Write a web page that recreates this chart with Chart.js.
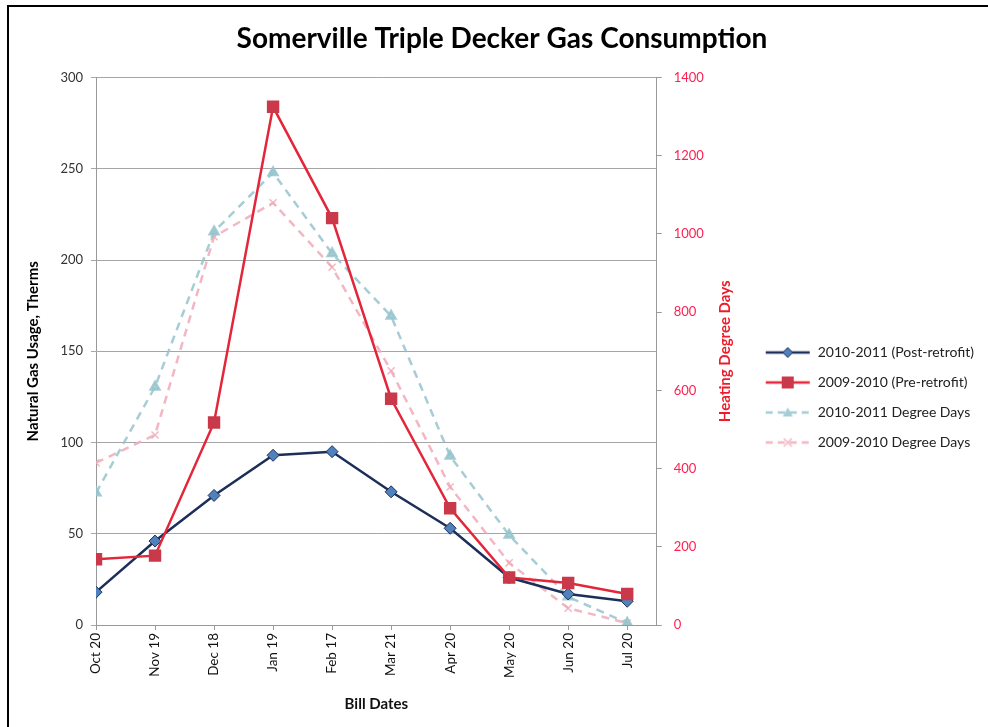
<!DOCTYPE html>
<html>
<head>
<meta charset="utf-8">
<script src="https://cdn.jsdelivr.net/npm/chart.js@4.4.1/dist/chart.umd.min.js"></script>
<style>
  html, body { margin: 0; padding: 0; background: #fff; }
  #wrap { position: relative; width: 988px; height: 727px; }
  #frame { position: absolute; left: 7px; top: 5px; right: 0; bottom: 0; border-top: 2px solid #000; border-left: 2px solid #000; }
  canvas { position: absolute; left: 0; top: 0; }
</style>
</head>
<body>
<div id="wrap">
  <div id="frame"></div>
  <canvas id="gasChart" width="988" height="727"></canvas>
</div>
<script>
const billDates = ["Oct 20", "Nov 19", "Dec 18", "Jan 19", "Feb 17", "Mar 21", "Apr 20", "May 20", "Jun 20", "Jul 20"];
const postRetrofit = [18, 46, 71, 93, 95, 73, 53, 26, 17, 13];
const preRetrofit = [36, 38, 111, 284, 223, 124, 64, 26, 23, 17];
const degreeDays1011 = [338, 609, 1006, 1157, 950, 790, 432, 230, 72, 5];
const degreeDays0910 = [415, 486, 993, 1080, 915, 650, 353, 159, 43, 5];
const thermTicks = [0, 50, 100, 150, 200, 250, 300];
const degreeTicks = [0, 200, 400, 600, 800, 1000, 1200, 1400];

const FONT = "Lato, 'Open Sans', sans-serif";
const red = "#e3263a";
const navy = "#1b2f5a";
const teal = "rgba(150,196,206,0.85)";
const pink = "rgba(240,170,185,0.85)";
const axisRed = "#ff1f4f";

function pts(arr) {
  return arr.map((v, i) => ({ x: i, y: v }));
}

// legend swatch: short line with the marker in the middle
function swatch(color, dash, drawMarker) {
  const c = document.createElement("canvas");
  c.width = 46; c.height = 16;
  const g = c.getContext("2d");
  g.strokeStyle = color;
  g.lineWidth = 2.5;
  g.setLineDash(dash);
  g.beginPath(); g.moveTo(1, 8); g.lineTo(45, 8); g.stroke();
  g.setLineDash([]);
  drawMarker(g, 23, 8);
  return c;
}
const legendIcons = [
  swatch(navy, [], (g, x, y) => {
    g.fillStyle = "#4f81bd"; g.strokeStyle = navy; g.lineWidth = 1;
    g.beginPath(); g.moveTo(x, y - 5); g.lineTo(x + 5, y); g.lineTo(x, y + 5); g.lineTo(x - 5, y); g.closePath(); g.fill(); g.stroke();
  }),
  swatch(red, [], (g, x, y) => {
    g.fillStyle = "#c9394a"; g.fillRect(x - 6, y - 6, 12, 12);
  }),
  swatch(teal, [7, 5], (g, x, y) => {
    g.fillStyle = teal;
    g.beginPath(); g.moveTo(x, y - 5); g.lineTo(x + 5, y + 4); g.lineTo(x - 5, y + 4); g.closePath(); g.fill();
  }),
  swatch(pink, [7, 5], (g, x, y) => {
    g.strokeStyle = pink; g.lineWidth = 1.5;
    g.beginPath(); g.moveTo(x - 4, y - 4); g.lineTo(x + 4, y + 4); g.moveTo(x + 4, y - 4); g.lineTo(x - 4, y + 4); g.stroke();
  })
];

// right axis title reads bottom-to-top like the left one
const rightTitle = {
  id: "rightTitle",
  afterDraw(chart) {
    const s = chart.scales.y1;
    const ctx = chart.ctx;
    ctx.save();
    ctx.translate(s.left + 68, (chart.chartArea.top + chart.chartArea.bottom) / 2);
    ctx.rotate(-Math.PI / 2);
    ctx.font = "bold 15px " + FONT;
    ctx.fillStyle = "#ee1c2a";
    ctx.textAlign = "center";
    ctx.textBaseline = "middle";
    ctx.fillText("Heating Degree Days", 0, 0);
    ctx.restore();
  }
};

new Chart(document.getElementById("gasChart"), {
  type: "line",
  data: {
    datasets: [
      {
        label: "2010-2011 (Post-retrofit)",
        data: pts(postRetrofit),
        yAxisID: "y",
        borderColor: navy,
        borderWidth: 2.5,
        pointStyle: "rectRot",
        pointRadius: 6,
        pointBackgroundColor: "#4f81bd",
        pointBorderColor: navy,
        pointBorderWidth: 1,
        order: 1
      },
      {
        label: "2009-2010 (Pre-retrofit)",
        data: pts(preRetrofit),
        yAxisID: "y",
        borderColor: red,
        borderWidth: 2.5,
        pointStyle: "rect",
        pointRadius: 7,
        pointBackgroundColor: "#c9394a",
        pointBorderColor: "#c9394a",
        order: 0
      },
      {
        label: "2010-2011 Degree Days",
        data: pts(degreeDays1011),
        yAxisID: "y1",
        borderColor: teal,
        borderWidth: 2.5,
        borderDash: [8, 6],
        pointStyle: "triangle",
        pointRadius: 5,
        pointBackgroundColor: teal,
        pointBorderColor: teal,
        order: 2
      },
      {
        label: "2009-2010 Degree Days",
        data: pts(degreeDays0910),
        yAxisID: "y1",
        borderColor: pink,
        borderWidth: 2.5,
        borderDash: [8, 6],
        pointStyle: "crossRot",
        pointRadius: 5,
        pointBorderColor: pink,
        pointBorderWidth: 1.5,
        order: 3
      }
    ]
  },
  options: {
    responsive: false,
    animation: false,
    layout: { padding: { left: 20, right: 4, top: 0, bottom: 4 } },
    plugins: {
      title: {
        display: true,
        text: "Somerville Triple Decker Gas Consumption",
        font: { family: FONT, size: 28, weight: "bold" },
        color: "#000",
        padding: { top: 22, bottom: 22 }
      },
      legend: {
        position: "right",
        maxWidth: 300,
        title: { display: true, text: " ", font: { size: 10 }, padding: 30 },
        labels: {
          usePointStyle: true,
          pointStyleWidth: 46,
          padding: 16,
          color: "#222",
          font: { family: FONT, size: 14 },
          sort: (a, b) => a.datasetIndex - b.datasetIndex,
          generateLabels(chart) {
            const items = Chart.defaults.plugins.legend.labels.generateLabels(chart);
            items.forEach(it => { it.pointStyle = legendIcons[it.datasetIndex]; });
            return items;
          }
        }
      },
      tooltip: { enabled: false }
    },
    scales: {
      x: {
        type: "linear",
        min: 0,
        max: 9.5,
        ticks: {
          stepSize: 1,
          autoSkip: false,
          minRotation: 90,
          maxRotation: 90,
          color: "#111",
          font: { family: FONT, size: 13.5 },
          callback: v => billDates[v] ?? ""
        },
        afterBuildTicks(s) { s.ticks = billDates.map((_, i) => ({ value: i })); },
        grid: { drawOnChartArea: false, color: "#999", tickLength: 5 },
        border: { color: "#999" },
        title: { display: true, text: "Bill Dates", color: "#111", font: { family: FONT, size: 15, weight: "bold" }, padding: { top: 4, bottom: 10 } },
        afterFit(s) { s.height = 98; }
      },
      y: {
        position: "left",
        min: 0,
        max: 300,
        afterBuildTicks(s) { s.ticks = thermTicks.map(v => ({ value: v })); },
        ticks: { color: "#333", font: { family: FONT, size: 13 }, padding: 8 },
        grid: { color: "#a6a6a6", tickLength: 5 },
        border: { color: "#999" },
        title: { display: true, text: "Natural Gas Usage, Therms", color: "#000", font: { family: FONT, size: 15, weight: "bold" }, padding: 4 },
        afterFit(s) { s.width = 76; }
      },
      y1: {
        position: "right",
        min: 0,
        max: 1400,
        afterBuildTicks(s) { s.ticks = degreeTicks.map(v => ({ value: v })); },
        ticks: { color: axisRed, font: { family: FONT, size: 13 }, padding: 12, callback: v => String(v) },
        grid: { drawOnChartArea: false, color: "#999", tickLength: 5 },
        border: { color: "#999" },
        afterFit(s) { s.width = 92; }
      }
    }
  },
  plugins: [rightTitle]
});
</script>
</body>
</html>
